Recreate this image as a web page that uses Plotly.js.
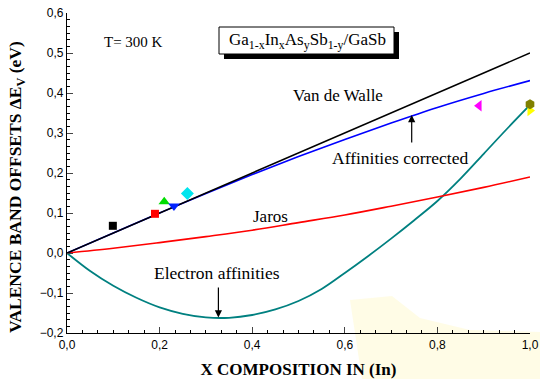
<!DOCTYPE html>
<html><head><meta charset="utf-8">
<script src="https://cdn.plot.ly/plotly-3.0.1.min.js"></script>
<style>html,body{margin:0;padding:0;background:#fff}</style>
</head><body><div id="chart" style="width:540px;height:379px"></div>
<script>
// ---- data ----
const xLine = [0,0.1,0.2,0.3,0.4,0.5,0.6,0.7,0.8,0.9,1.0];
const vanDeWalle = [0,0.05,0.10,0.15,0.20,0.25,0.30,0.35,0.40,0.45,0.50];
const affinitiesCorrected = [0,0.05,0.10,0.149,0.196,0.241,0.284,0.325,0.364,0.399,0.431];
const jaros = [0,0.012,0.026,0.041,0.057,0.076,0.095,0.117,0.140,0.164,0.190];
const xAff = [0,0.05,0.10,0.15,0.20,0.25,0.30,0.35,0.40,0.45,0.50,0.55,0.60,0.65,0.70,0.75,0.80,0.85,0.90,0.95,1.0];
const electronAffinities = [0,-0.045,-0.082,-0.112,-0.136,-0.152,-0.161,-0.162,-0.155,-0.141,-0.120,-0.090,-0.050,-0.008,0.036,0.082,0.130,0.186,0.248,0.310,0.370];
// experimental points
const expX = [0.099,0.19,0.21,0.231,0.26,0.89,1.0,1.0];
const expY = [0.068,0.098,0.128,0.1175,0.149,0.368,0.356,0.372];
// styles (kept apart from data)
const expSymbols = ['square','square','triangle-up','triangle-down','diamond','triangle-left','triangle-right','hexagon'];
const expColors = ['#000000','#ff0000','#00dd00','#0022ff','#00e5ee','#ff00ff','#ffff00','#808000'];
const expSizes = [8,8,10,10,10,10,10,10];

const traces = [
  {x:xAff, y:electronAffinities, mode:'lines', line:{color:'#008080', width:1.8, shape:'spline'}, hoverinfo:'skip', cliponaxis:false},
  {x:xLine, y:jaros, mode:'lines', line:{color:'#ff0000', width:1.6, shape:'spline'}, hoverinfo:'skip', cliponaxis:false},
  {x:xLine, y:affinitiesCorrected, mode:'lines', line:{color:'#0000ff', width:1.6, shape:'spline'}, hoverinfo:'skip', cliponaxis:false},
  {x:xLine, y:vanDeWalle, mode:'lines', line:{color:'#000000', width:1.6}, hoverinfo:'skip', cliponaxis:false}
];
for (let i = 0; i < expX.length; i++) {
  traces.push({x:[expX[i]], y:[expY[i]], mode:'markers', cliponaxis:false,
    marker:{symbol:expSymbols[i], color:expColors[i], size:expSizes[i], line:{width:0}}, hoverinfo:'skip'});
}

const serif = 'Liberation Serif, Times New Roman, serif';
const px = v => (v-67)/463, py = v => (333-v)/320;
const pathPx = pts => pts.map((p,i)=>(i?'L':'M')+px(p[0]).toFixed(4)+','+py(p[1]).toFixed(4)).join(' ')+' Z';

const layout = {
  width:540, height:379,
  margin:{l:67, r:10, t:13, b:46},
  showlegend:false,
  separators:', ',
  paper_bgcolor:'#ffffff', plot_bgcolor:'rgba(0,0,0,0)',
  font:{family:'Liberation Sans, Arial, sans-serif', size:12, color:'#000'},
  xaxis:{range:[0,1], dtick:0.2, tick0:0, tickformat:'.1f', ticks:'inside', ticklen:6, tickwidth:1,
    showline:true, linecolor:'#000', linewidth:1.2, showgrid:false, zeroline:false, mirror:false,
    minor:{dtick:0.2/6, ticks:'inside', ticklen:3, tickcolor:'#000', showgrid:false},
    tickfont:{size:12},
    title:{text:'<b>X COMPOSITION IN (In)</b>', font:{family:serif, size:17}, standoff:12}},
  yaxis:{range:[-0.2,0.6], dtick:0.1, tick0:0, tickformat:'.1f', ticks:'inside', ticklen:6, tickwidth:1,
    showline:true, linecolor:'#000', linewidth:1.2, showgrid:false, zeroline:false, mirror:false,
    minor:{dtick:0.1/6, ticks:'inside', ticklen:3, tickcolor:'#000', showgrid:false},
    tickfont:{size:12}},
  shapes:[
    {type:'path', xref:'paper', yref:'paper', layer:'below', line:{width:0}, fillcolor:'rgba(255,250,210,0.55)',
      path:pathPx([[350,300],[392,296],[420,318],[470,330],[540,332],[540,379],[362,379]])},
    {type:'rect', xref:'paper', yref:'paper', x0:px(224), x1:px(399), y0:py(59), y1:py(32), fillcolor:'#000', line:{width:0}},
    {type:'rect', xref:'paper', yref:'paper', x0:px(219), x1:px(394), y0:py(54), y1:py(27), fillcolor:'#fff', line:{color:'#000', width:1}}
  ],
  annotations:[
    {xref:'paper', yref:'paper', x:px(16), y:py(187), xanchor:'center', yanchor:'middle', textangle:-90,
      text:'<b>VALENCE BAND OFFSETS ΔE<sub>V</sub> (eV)</b>', showarrow:false, font:{family:serif, size:17.5}},
    {xref:'paper', yref:'paper', x:px(307), y:py(41), xanchor:'center', yanchor:'middle', text:'Ga<sub>1-x</sub>In<sub>x</sub>As<sub>y</sub>Sb<sub>1-y</sub>/GaSb', showarrow:false, font:{family:serif, size:17}},
    {xref:'paper', yref:'paper', x:px(133), y:py(42), xanchor:'center', yanchor:'middle', text:'T= 300 K', showarrow:false, font:{family:serif, size:15}},
    {x:px(338), y:(253-95)/400, xref:'x', yref:'y', xanchor:'center', yanchor:'middle', text:'Van de Walle', showarrow:false, font:{family:serif, size:17}},
    {x:px(270), y:(253-216)/400, xref:'x', yref:'y', xanchor:'center', yanchor:'middle', text:'Jaros', showarrow:false, font:{family:serif, size:17}},
    {x:px(400), y:(253-158)/400, xref:'x', yref:'y', xanchor:'center', yanchor:'middle', text:'Affinities corrected', showarrow:false, font:{family:serif, size:17.5}},
    {x:px(217), y:(253-273)/400, xref:'x', yref:'y', xanchor:'center', yanchor:'middle', text:'Electron affinities', showarrow:false, font:{family:serif, size:17.5}},
    {x:0.7445, y:0.345, ax:0.7445, ay:0.2725, xref:'x', yref:'y', axref:'x', ayref:'y', text:'', showarrow:true, arrowhead:2, arrowsize:1.2, arrowwidth:1.2, arrowcolor:'#000'},
    {x:0.327, y:-0.161, ax:0.327, ay:-0.0825, xref:'x', yref:'y', axref:'x', ayref:'y', text:'', showarrow:true, arrowhead:2, arrowsize:1.2, arrowwidth:1.2, arrowcolor:'#000'}
  ]
};

Plotly.newPlot('chart', traces, layout, {displayModeBar:false, staticPlot:true});
</script>
</body></html>
